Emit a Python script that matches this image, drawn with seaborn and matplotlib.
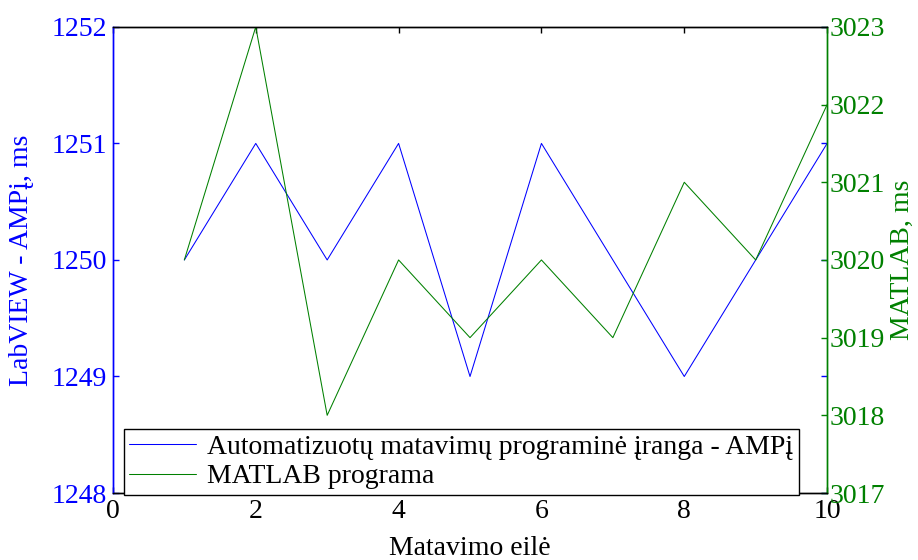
import matplotlib
matplotlib.use("Agg")
import matplotlib.pyplot as plt
import seaborn as sns
import pandas as pd

# Measurement data
measurement = [1, 2, 3, 4, 5, 6, 7, 8, 9, 10]
labview_ms = [1250, 1251, 1250, 1251, 1249, 1251, 1250, 1249, 1250, 1251]
matlab_ms = [3020, 3023, 3018, 3020, 3019, 3020, 3019, 3021, 3020, 3022]

x_ticks = [0, 2, 4, 6, 8, 10]
left_ticks = [1248, 1249, 1250, 1251, 1252]
right_ticks = [3017, 3018, 3019, 3020, 3021, 3022, 3023]

label_amp = "Automatizuotų matavimų programinė įranga - AMPį"
label_matlab = "MATLAB programa"

df = pd.DataFrame({"eile": measurement, "amp": labview_ms, "matlab": matlab_ms})

sns.set_theme(style="white")
plt.rcParams["font.family"] = ["Liberation Serif", "DejaVu Serif"]
plt.rcParams["text.color"] = "black"

BLUE = (0, 0, 1)
GREEN = (0, 0.5, 0)
FS = 20

fig = plt.figure(figsize=(9.18, 5.6), dpi=100)
ax = fig.add_axes([0.123, 0.1196, 0.778, 0.8324])
ax2 = ax.twinx()

sns.lineplot(data=df, x="eile", y="amp", ax=ax, color=BLUE, linewidth=0.75,
             label=label_amp, legend=False)
sns.lineplot(data=df, x="eile", y="matlab", ax=ax2, color=GREEN, linewidth=0.75,
             label=label_matlab, legend=False)

ax.set_xlim(0, 10)
ax.set_ylim(1248, 1252)
ax2.set_ylim(3017, 3023)
ax.set_xticks(x_ticks)
ax.set_yticks(left_ticks)
ax2.set_yticks(right_ticks)

ax.tick_params(axis="x", direction="in", length=4, width=1, colors="black",
               labelsize=FS, top=True, bottom=True, pad=4)
ax.tick_params(axis="y", direction="in", length=4, width=1, colors=BLUE,
               labelsize=FS, left=True, right=True, pad=4)
ax2.tick_params(axis="y", direction="in", length=4, width=1, colors=GREEN,
                labelsize=FS, right=True, left=False, pad=2)

for a in (ax, ax2):
    a.spines["top"].set_color("black")
    a.spines["bottom"].set_color("black")
    a.spines["left"].set_color(BLUE)
    a.spines["right"].set_color(GREEN)
    for s in a.spines.values():
        s.set_linewidth(1)
        s.set_visible(True)
    a.grid(False)

ax.set_xlabel("Matavimo eilė", fontsize=FS, color="black", labelpad=9)
ax.set_ylabel("LabVIEW - AMPį, ms", fontsize=FS, color=BLUE, labelpad=13)
ax2.set_ylabel("MATLAB, ms", fontsize=FS, color=GREEN, labelpad=3)

h1, l1 = ax.get_legend_handles_labels()
h2, l2 = ax2.get_legend_handles_labels()
leg = ax2.legend(h1 + h2, l1 + l2, loc="lower left",
                 bbox_to_anchor=(0.0154, -0.004), fontsize=FS,
                 frameon=True, fancybox=False, framealpha=1,
                 edgecolor="black", borderpad=0.2, labelspacing=0.15,
                 handlelength=2.4, handletextpad=0.4, borderaxespad=0,
                 labelcolor="black")
leg.get_frame().set_linewidth(1)

fig.savefig("out.png", dpi=100)
